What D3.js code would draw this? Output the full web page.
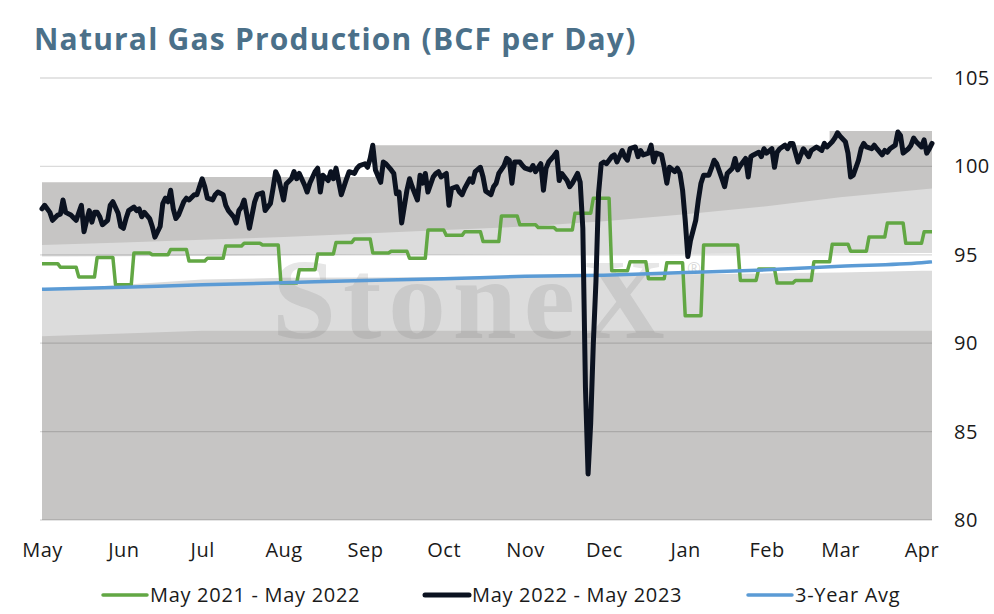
<!DOCTYPE html>
<html>
<head>
<meta charset="utf-8">
<script src="https://cdnjs.cloudflare.com/ajax/libs/d3/7.8.5/d3.min.js"></script>
<style>
  body { margin: 0; background: #fff; }
  text { font-family: "Open Sans", "Noto Sans", sans-serif; }
</style>
</head>
<body>
<div id="chart"></div>
<script>
// ---- data ----
var startDate = new Date(2022, 4, 1);   // day 0 = 1 May
var lastDay = 339;                        // chart runs to early April

var monthLabels = ["May","Jun","Jul","Aug","Sep","Oct","Nov","Dec","Jan","Feb","Mar","Apr"];
var monthDays   = [0, 31, 61, 92, 123, 153, 184, 214, 245, 276, 304, 335];
var yTicks = [80, 85, 90, 95, 100, 105];

// background range bands, knots at month starts (+ last day)
var bandDays     = [0, 31, 61, 92, 123, 153, 184, 214, 245, 276, 304, 335, 339];
var lowBandTop   = [90.4, 90.55, 90.7, 90.7, 90.7, 90.7, 90.7, 90.7, 90.7, 90.7, 90.7, 90.7, 90.7];
var whiteLow     = [93.0, 93.3, 93.6, 93.7, 93.72, 93.75, 93.8, 93.85, 93.9, 93.95, 94.0, 94.1, 94.1];
var whiteHigh    = [94.9, 94.92, 94.95, 94.97, 95.0, 95.0, 95.02, 95.03, 95.05, 95.07, 95.08, 95.1, 95.1];
var rangeLow     = [95.55, 95.7, 95.85, 96.0, 96.2, 96.4, 96.6, 96.9, 97.3, 97.75, 98.25, 98.7, 98.75];
// upper edge of the range moves in steps
var rangeHighDays = [0, 61, 61, 127, 127, 300, 300, 339];
var rangeHigh     = [99.1, 99.1, 99.4, 99.4, 101.2, 101.2, 102.0, 102.0];

// 3-year average, month starts
var avgDays = [0, 31, 61, 92, 123, 153, 184, 214, 245, 276, 304, 335, 339];
var avg3yr  = [93.05, 93.17, 93.3, 93.42, 93.55, 93.65, 93.78, 93.85, 94.0, 94.15, 94.35, 94.55, 94.6];

// May 2021 - May 2022, weekly values (held for 7 days)
var prevYearWeekly = [94.5, 94.3, 93.75, 94.85, 93.3, 95.1, 95.0, 95.3, 94.65, 94.8,
                      95.5, 95.65, 95.55, 93.4, 94.15, 95.05, 95.7, 95.9, 95.1, 95.2,
                      94.8, 96.4, 96.1, 96.3, 95.75, 97.2, 96.7, 96.55, 96.4, 97.35,
                      98.2, 94.1, 94.6, 93.65, 94.55, 91.55, 95.55, 95.55, 93.55, 94.2,
                      93.4, 93.55, 94.6, 95.6, 95.2, 96.0, 96.8, 95.65, 96.3];

// May 2022 - May 2023, [day, bcf/d]
var curYear = [[0,97.6],[1,97.8],[3,97.4],[4,96.95],[6,97.25],[7,97.3],[8,98.1],[9,97.4],[11,97.25],[12,97.1],
  [13,96.95],[15,97.8],[16,96.3],[17,96.95],[18,97.5],[19,96.85],[20,97.4],[21,97.4],[22,97.15],[23,96.7],
  [25,96.95],[26,97.8],[27,98.0],[29,97.35],[30,96.6],[31,96.5],[32,97.05],[33,97.5],[35,97.7],[36,97.5],
  [37,97.6],[38,97.15],[39,97.4],[41,97.05],[42,96.6],[43,96.0],[45,96.6],[46,97.9],[47,98.2],[48,98.0],
  [49,98.65],[50,97.6],[51,97.05],[52,97.25],[54,98.0],[55,98.2],[56,98.1],[58,98.4],[59,98.4],[61,99.3],
  [62,98.85],[63,98.2],[65,98.1],[66,98.4],[67,98.55],[69,98.4],[70,97.8],[71,97.5],[73,97.15],[74,96.8],
  [75,97.5],[76,97.7],[77,98.1],[79,96.5],[80,97.25],[81,98.0],[82,98.4],[84,98.5],[85,97.5],[87,97.9],
  [88,98.75],[89,99.7],[90,99.4],[92,98.1],[93,99.0],[95,99.3],[96,99.7],[97,99.3],[98,99.6],[100,98.95],
  [101,98.55],[102,99.05],[104,99.7],[105,99.9],[106,98.55],[107,99.5],[109,99.2],[110,99.7],[111,99.3],[112,99.9],
  [114,98.4],[115,98.85],[116,99.3],[117,99.7],[119,99.6],[120,99.9],[121,100.05],[123,100.15],[124,99.95],[125,100.45],
  [126,101.2],[127,99.8],[129,99.1],[130,100.25],[131,100.15],[133,99.8],[134,99.6],[135,98.45],[136,98.55],[137,96.8],
  [139,98.65],[140,99.3],[141,98.85],[143,98.1],[144,99.5],[145,99.05],[146,99.6],[147,98.55],[149,99.4],[150,99.6],
  [151,99.7],[152,99.4],[154,99.6],[155,97.8],[156,98.75],[158,98.85],[159,98.55],[160,98.4],[161,98.75],[163,99.3],
  [164,99.1],[165,99.7],[167,99.95],[168,99.4],[169,98.6],[171,98.4],[172,98.85],[173,99.05],[174,99.6],[176,100.05],
  [177,100.45],[178,100.35],[179,99.05],[180,100.25],[182,100.25],[183,100.05],[184,99.9],[186,99.8],[187,100.05],[188,99.7],
  [190,100.15],[191,98.65],[192,99.9],[193,100.25],[195,100.6],[196,100.8],[197,99.2],[198,99.6],[200,99.2],[201,98.85],
  [202,99.05],[204,99.6],[205,99.1],[206,96.5],[207,87.5],[208,82.6],[209,85.5],[210,90.0],[211,93.5],[212,98.5],
  [213,100.15],[214,100.25],[215,100.15],[217,100.55],[218,100.65],[219,100.25],[221,100.9],[222,100.55],[223,100.35],[224,101.0],
  [226,101.1],[227,100.55],[228,100.9],[229,100.65],[231,100.75],[232,101.2],[233,100.25],[234,100.75],[236,100.65],[237,99.95],
  [238,99.05],[239,99.95],[241,99.7],[242,99.9],[243,99.6],[244,98.65],[245,96.95],[246,94.9],[247,95.8],[249,96.95],
  [250,98.1],[251,99.05],[252,99.5],[254,99.5],[255,99.9],[256,100.35],[257,100.15],[259,99.3],[260,98.85],[261,99.6],
  [263,99.9],[264,100.45],[265,99.8],[266,100.05],[268,100.45],[269,99.4],[270,100.55],[271,100.65],[273,100.8],[274,100.55],
  [275,101.0],[276,100.75],[278,101.0],[279,99.95],[280,100.8],[281,101.0],[283,101.2],[284,101.0],[285,101.3],[286,101.3],
  [288,100.25],[289,100.65],[290,101.0],[292,100.55],[293,100.9],[294,101.0],[295,101.1],[297,100.9],[298,101.3],[299,101.1],
  [301,101.4],[302,101.6],[303,101.9],[304,101.7],[306,101.4],[307,100.75],[308,99.4],[309,99.5],[311,100.35],[312,101.0],
  [313,101.3],[314,101.1],[316,101.0],[317,101.2],[318,101.0],[320,100.65],[321,100.9],[322,100.8],[323,101.0],[325,101.2],
  [326,101.95],[327,101.75],[328,100.75],[330,101.0],[331,101.2],[332,101.6],[333,101.4],[335,101.1],[336,101.5],[337,100.75],
  [338,101.0],[339,101.3]];

var seriesNames = ["May 2021 - May 2022", "May 2022 - May 2023", "3-Year Avg"];
var seriesColors = ["#62a744", "#0b1220", "#5b9bd5"];
var seriesWidths = [3.5, 5, 3.5];

// ---- layout ----
var width = 994, height = 614;
var margin = { top: 78, right: 62, bottom: 94, left: 42 };
var chartWidth = width - margin.left - margin.right;
var chartHeight = height - margin.top - margin.bottom;

function dayToDate(d) { return d3.timeDay.offset(startDate, d); }

var svg = d3.select("#chart").append("svg")
    .attr("width", width)
    .attr("height", height);

svg.append("text")
    .attr("x", 34)
    .attr("y", 50)
    .attr("fill", "#4b7089")
    .style("font-size", "30px")
    .style("font-weight", "bold")
    .style("letter-spacing", "1.2px")
    .text("Natural Gas Production (BCF per Day)");

var chartGroup = svg.append("g")
    .attr("transform", `translate(${margin.left}, ${margin.top})`);

var xScale = d3.scaleTime()
    .domain([startDate, dayToDate(lastDay)])
    .range([0, chartWidth]);

var yScale = d3.scaleLinear()
    .domain([80, 105])
    .range([chartHeight, 0]);

// bands: painted top-down, each filled to the floor
function bandArea(days, vals) {
    return d3.area()
        .x((d, i) => xScale(dayToDate(days[i])))
        .y0(yScale(80))
        .y1((d, i) => yScale(vals[i]))(vals);
}
var bands = [
    [rangeHighDays, rangeHigh, "#c6c5c4"],
    [bandDays, rangeLow, "#dcdcdc"],
    [bandDays, whiteHigh, "#ffffff"],
    [bandDays, whiteLow, "#dcdcdc"],
    [bandDays, lowBandTop, "#c6c5c4"]
];
bands.forEach(b => {
    chartGroup.append("path")
        .attr("d", bandArea(b[0], b[1]))
        .attr("fill", b[2]);
});

// gridlines
chartGroup.selectAll(".grid")
    .data(yTicks)
    .enter()
    .append("line")
    .attr("class", "grid")
    .attr("x1", -2)
    .attr("x2", chartWidth)
    .attr("y1", d => yScale(d))
    .attr("y2", d => yScale(d))
    .attr("stroke", "#000")
    .attr("stroke-opacity", 0.14)
    .attr("stroke-width", 1.3);

// watermark
chartGroup.append("text")
    .attr("x", 230)
    .attr("y", 260)
    .style("font-family", "'Liberation Serif', 'DejaVu Serif', serif")
    .style("font-size", "115px")
    .style("font-weight", "bold")
    .style("letter-spacing", "7px")
    .attr("fill", "#808080")
    .attr("fill-opacity", 0.2)
    .text("StoneX");
chartGroup.append("text")
    .attr("x", 645)
    .attr("y", 196)
    .style("font-size", "17px")
    .attr("fill", "#808080")
    .attr("fill-opacity", 0.3)
    .text("\u00AE");

// axes
var botAxis = d3.axisBottom(xScale)
    .tickValues(monthDays.map(dayToDate))
    .tickFormat((d, i) => monthLabels[i])
    .tickSize(0)
    .tickPadding(23);
var rightAxis = d3.axisRight(yScale)
    .tickValues(yTicks)
    .tickSize(0)
    .tickPadding(22);

var xAxisG = chartGroup.append("g")
    .attr("transform", `translate(0, ${chartHeight})`)
    .call(botAxis);
var yAxisG = chartGroup.append("g")
    .attr("transform", `translate(${chartWidth}, 0)`)
    .call(rightAxis);
[xAxisG, yAxisG].forEach(g => {
    g.select(".domain").remove();
    g.selectAll("text")
        .style("font-size", "20px")
        .style("letter-spacing", "0.5px")
        .attr("fill", "#1a1a1a");
});

// lines
var prevYearPts = [];
prevYearWeekly.forEach((v, w) => {
    for (var k = 0; k < 7; k++) {
        var day = w * 7 + k;
        if (day <= lastDay) prevYearPts.push([day, v]);
    }
});
var avgPts = avgDays.map((d, i) => [d, avg3yr[i]]);

var line = d3.line()
    .x(d => xScale(dayToDate(d[0])))
    .y(d => yScale(d[1]));

chartGroup.append("path")
    .attr("d", line(prevYearPts))
    .attr("fill", "none")
    .attr("stroke", seriesColors[0])
    .attr("stroke-width", seriesWidths[0])
    .attr("stroke-linejoin", "round");

chartGroup.append("path")
    .attr("d", line.curve(d3.curveMonotoneX)(avgPts))
    .attr("fill", "none")
    .attr("stroke", seriesColors[2])
    .attr("stroke-width", seriesWidths[2]);

chartGroup.append("path")
    .attr("d", line.curve(d3.curveLinear)(curYear))
    .attr("fill", "none")
    .attr("stroke", seriesColors[1])
    .attr("stroke-width", seriesWidths[1])
    .attr("stroke-linejoin", "round")
    .attr("stroke-linecap", "round");

// legend
var legendX = [103, 425, 748];
var legend = svg.selectAll(".legend")
    .data(seriesNames)
    .enter()
    .append("g")
    .attr("class", "legend")
    .attr("transform", (d, i) => `translate(${legendX[i]}, 595)`);
legend.append("line")
    .attr("x1", 0)
    .attr("x2", 44)
    .attr("stroke", (d, i) => seriesColors[i])
    .attr("stroke-width", (d, i) => seriesWidths[i])
    .attr("stroke-linecap", "round");
legend.append("text")
    .attr("x", 47)
    .attr("dy", "0.35em")
    .style("font-size", "20px")
    .style("letter-spacing", "0.7px")
    .attr("fill", "#1a1a1a")
    .text(d => d);
</script>
</body>
</html>
